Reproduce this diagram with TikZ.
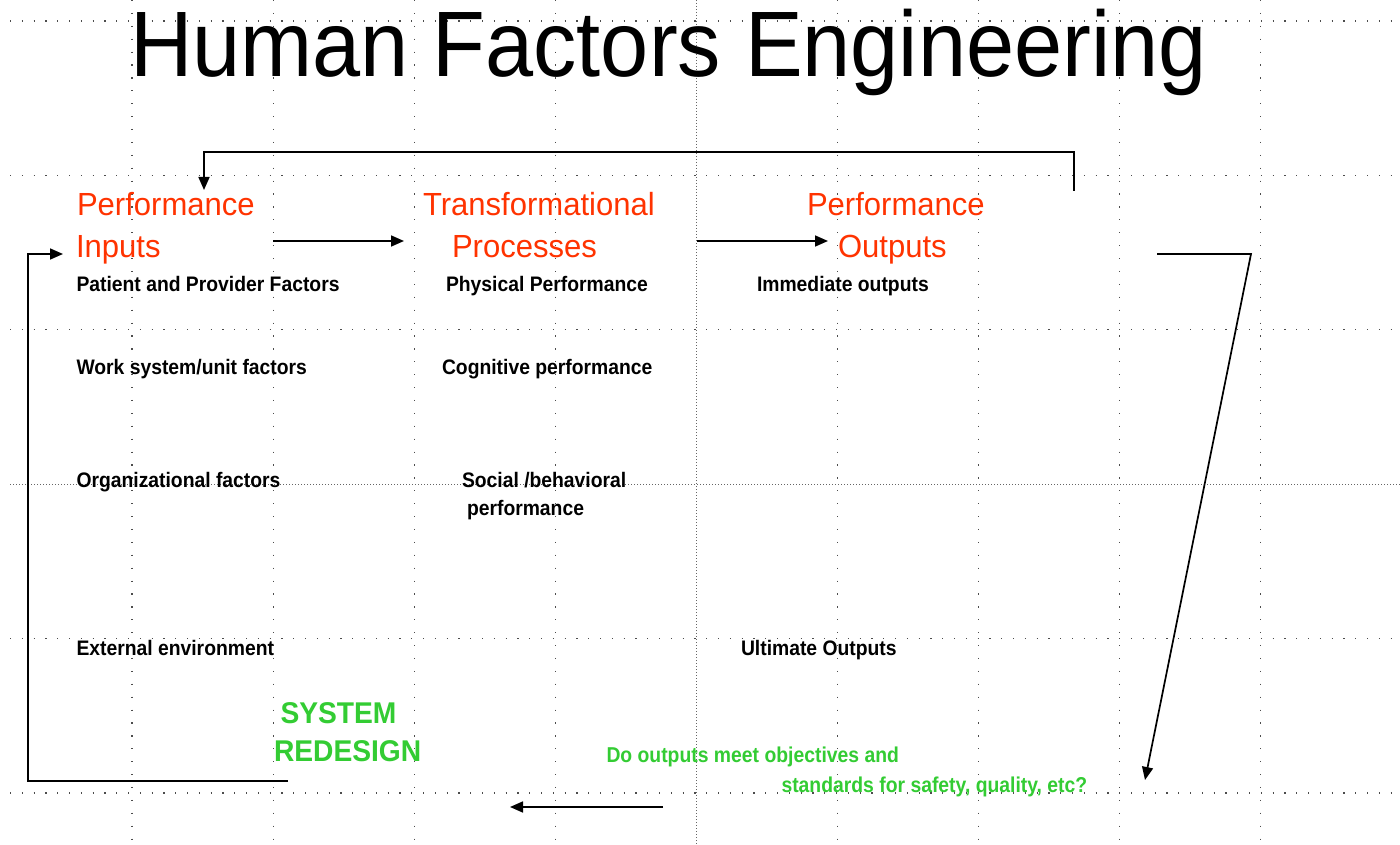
\documentclass[tikz,border=0pt]{standalone}
\usepackage{fontspec}
\setmainfont{Liberation Sans}
\newfontfamily\titlefont[FakeStretch=0.93]{Liberation Sans}
\newfontfamily\headfont[FakeStretch=0.97]{Liberation Sans}
\newfontfamily\greenfont[FakeStretch=0.94]{Liberation Sans}
\newfontfamily\itemfont[FakeStretch=0.92]{Liberation Sans}
\newfontfamily\askfont[FakeStretch=0.9]{Liberation Sans}
\usetikzlibrary{arrows.meta}
\definecolor{hfred}{RGB}{255,51,0}
\definecolor{hfgreen}{RGB}{51,204,51}

\begin{document}
\begin{tikzpicture}[x=1pt,y=-1pt,
  txt/.style={anchor=base west,inner sep=0pt,outer sep=0pt},
  titletext/.style={txt,font=\titlefont\fontsize{93}{100}\selectfont},
  headtext/.style={txt,text=hfred,font=\headfont\fontsize{32}{36}\selectfont},
  itemtext/.style={txt,font=\itemfont\bfseries\fontsize{21}{24}\selectfont},
  redesigntext/.style={txt,text=hfgreen,font=\greenfont\bfseries\fontsize{30}{34}\selectfont},
  questiontext/.style={txt,text=hfgreen,font=\askfont\bfseries\fontsize{21.5}{24}\selectfont},
  gridh/.style={black!70,line width=1.2pt,dash pattern=on 1.2pt off 10.6pt},
  gridv/.style={black!70,line width=1.2pt,dash pattern=on 1.2pt off 11.7pt},
  gridmid/.style={black!60,line width=1pt,dash pattern=on 1pt off 2pt},
  link/.style={line width=1.7pt},
  flow/.style={link,-{Triangle[length=13pt,width=11pt]}}]

% page
\fill[white] (0,0) rectangle (1400,845);
\useasboundingbox (0,0) rectangle (1400,845);

% dotted guide grid
\foreach \k in {0,1,2,3,5,6,7,8}
  \draw[gridv] ({132+141.1*\k},0) -- ({132+141.1*\k},845);
\draw[gridmid] (696.5,0) -- (696.5,845);
\foreach \j in {0,1,2,4,5}
  \draw[gridh] (10,{21+154.4*\j}) -- (1400,{21+154.4*\j});
\draw[gridmid] (10,484) -- (1400,484);

% title
\node[titletext] (title) at (130,77) {Human Factors Engineering};

% column headings
\node[headtext] (inA) at (77,215) {Performance};
\node[headtext] (inB) at (76,257) {Inputs};
\node[headtext] (procA) at (423,215) {Transformational};
\node[headtext] (procB) at (452,257) {Processes};
\node[headtext] (outA) at (807,215) {Performance};
\node[headtext] (outB) at (838,257) {Outputs};

% inputs
\node[itemtext] (patient) at (76.5,291) {Patient and Provider Factors};
\node[itemtext] (work) at (76.5,374) {Work system/unit factors};
\node[itemtext] (org) at (76.5,487) {Organizational factors};
\node[itemtext] (ext) at (76.5,655) {External environment};

% processes
\node[itemtext] (phys) at (446,291) {Physical Performance};
\node[itemtext] (cogn) at (442,374) {Cognitive performance};
\node[itemtext] (socA) at (462,487) {Social /behavioral};
\node[itemtext] (socB) at (467,515) {performance};

% outputs
\node[itemtext] (imm) at (757,291) {Immediate outputs};
\node[itemtext] (ult) at (741,655) {Ultimate Outputs};

% feedback labels
\node[redesigntext] (sysA) at (280.5,723) {SYSTEM};
\node[redesigntext] (sysB) at (274,761) {REDESIGN};
\node[questiontext] (qA) at (606.5,762) {Do outputs meet objectives and};
\node[questiontext] (qB) at (781.5,792) {standards for safety, quality, etc?};

% connector points
\coordinate (fbStart) at (1074,191);
\coordinate (fbTopR) at (1074,152);
\coordinate (fbTopL) at (204,152);
\coordinate (fbEnd) at (204,190);
\coordinate (a1s) at (273,241);
\coordinate (a1e) at (404,241);
\coordinate (a2s) at (697,241);
\coordinate (a2e) at (828,241);
\coordinate (rs) at (1157,254);
\coordinate (rc) at (1251,254);
\coordinate (re) at (1145,780);
\coordinate (bs) at (663,807);
\coordinate (be) at (510,807);
\coordinate (ls) at (288,781);
\coordinate (lc1) at (28,781);
\coordinate (lc2) at (28,254);
\coordinate (le) at (63,254);

% connectors
\draw[flow] (fbStart) -- (fbTopR) -- (fbTopL) -- (fbEnd);
\draw[flow] (a1s) -- (a1e);
\draw[flow] (a2s) -- (a2e);
\draw[flow] (rs) -- (rc) -- (re);
\draw[flow] (bs) -- (be);
\draw[flow] (ls) -- (lc1) -- (lc2) -- (le);
\end{tikzpicture}
\end{document}
